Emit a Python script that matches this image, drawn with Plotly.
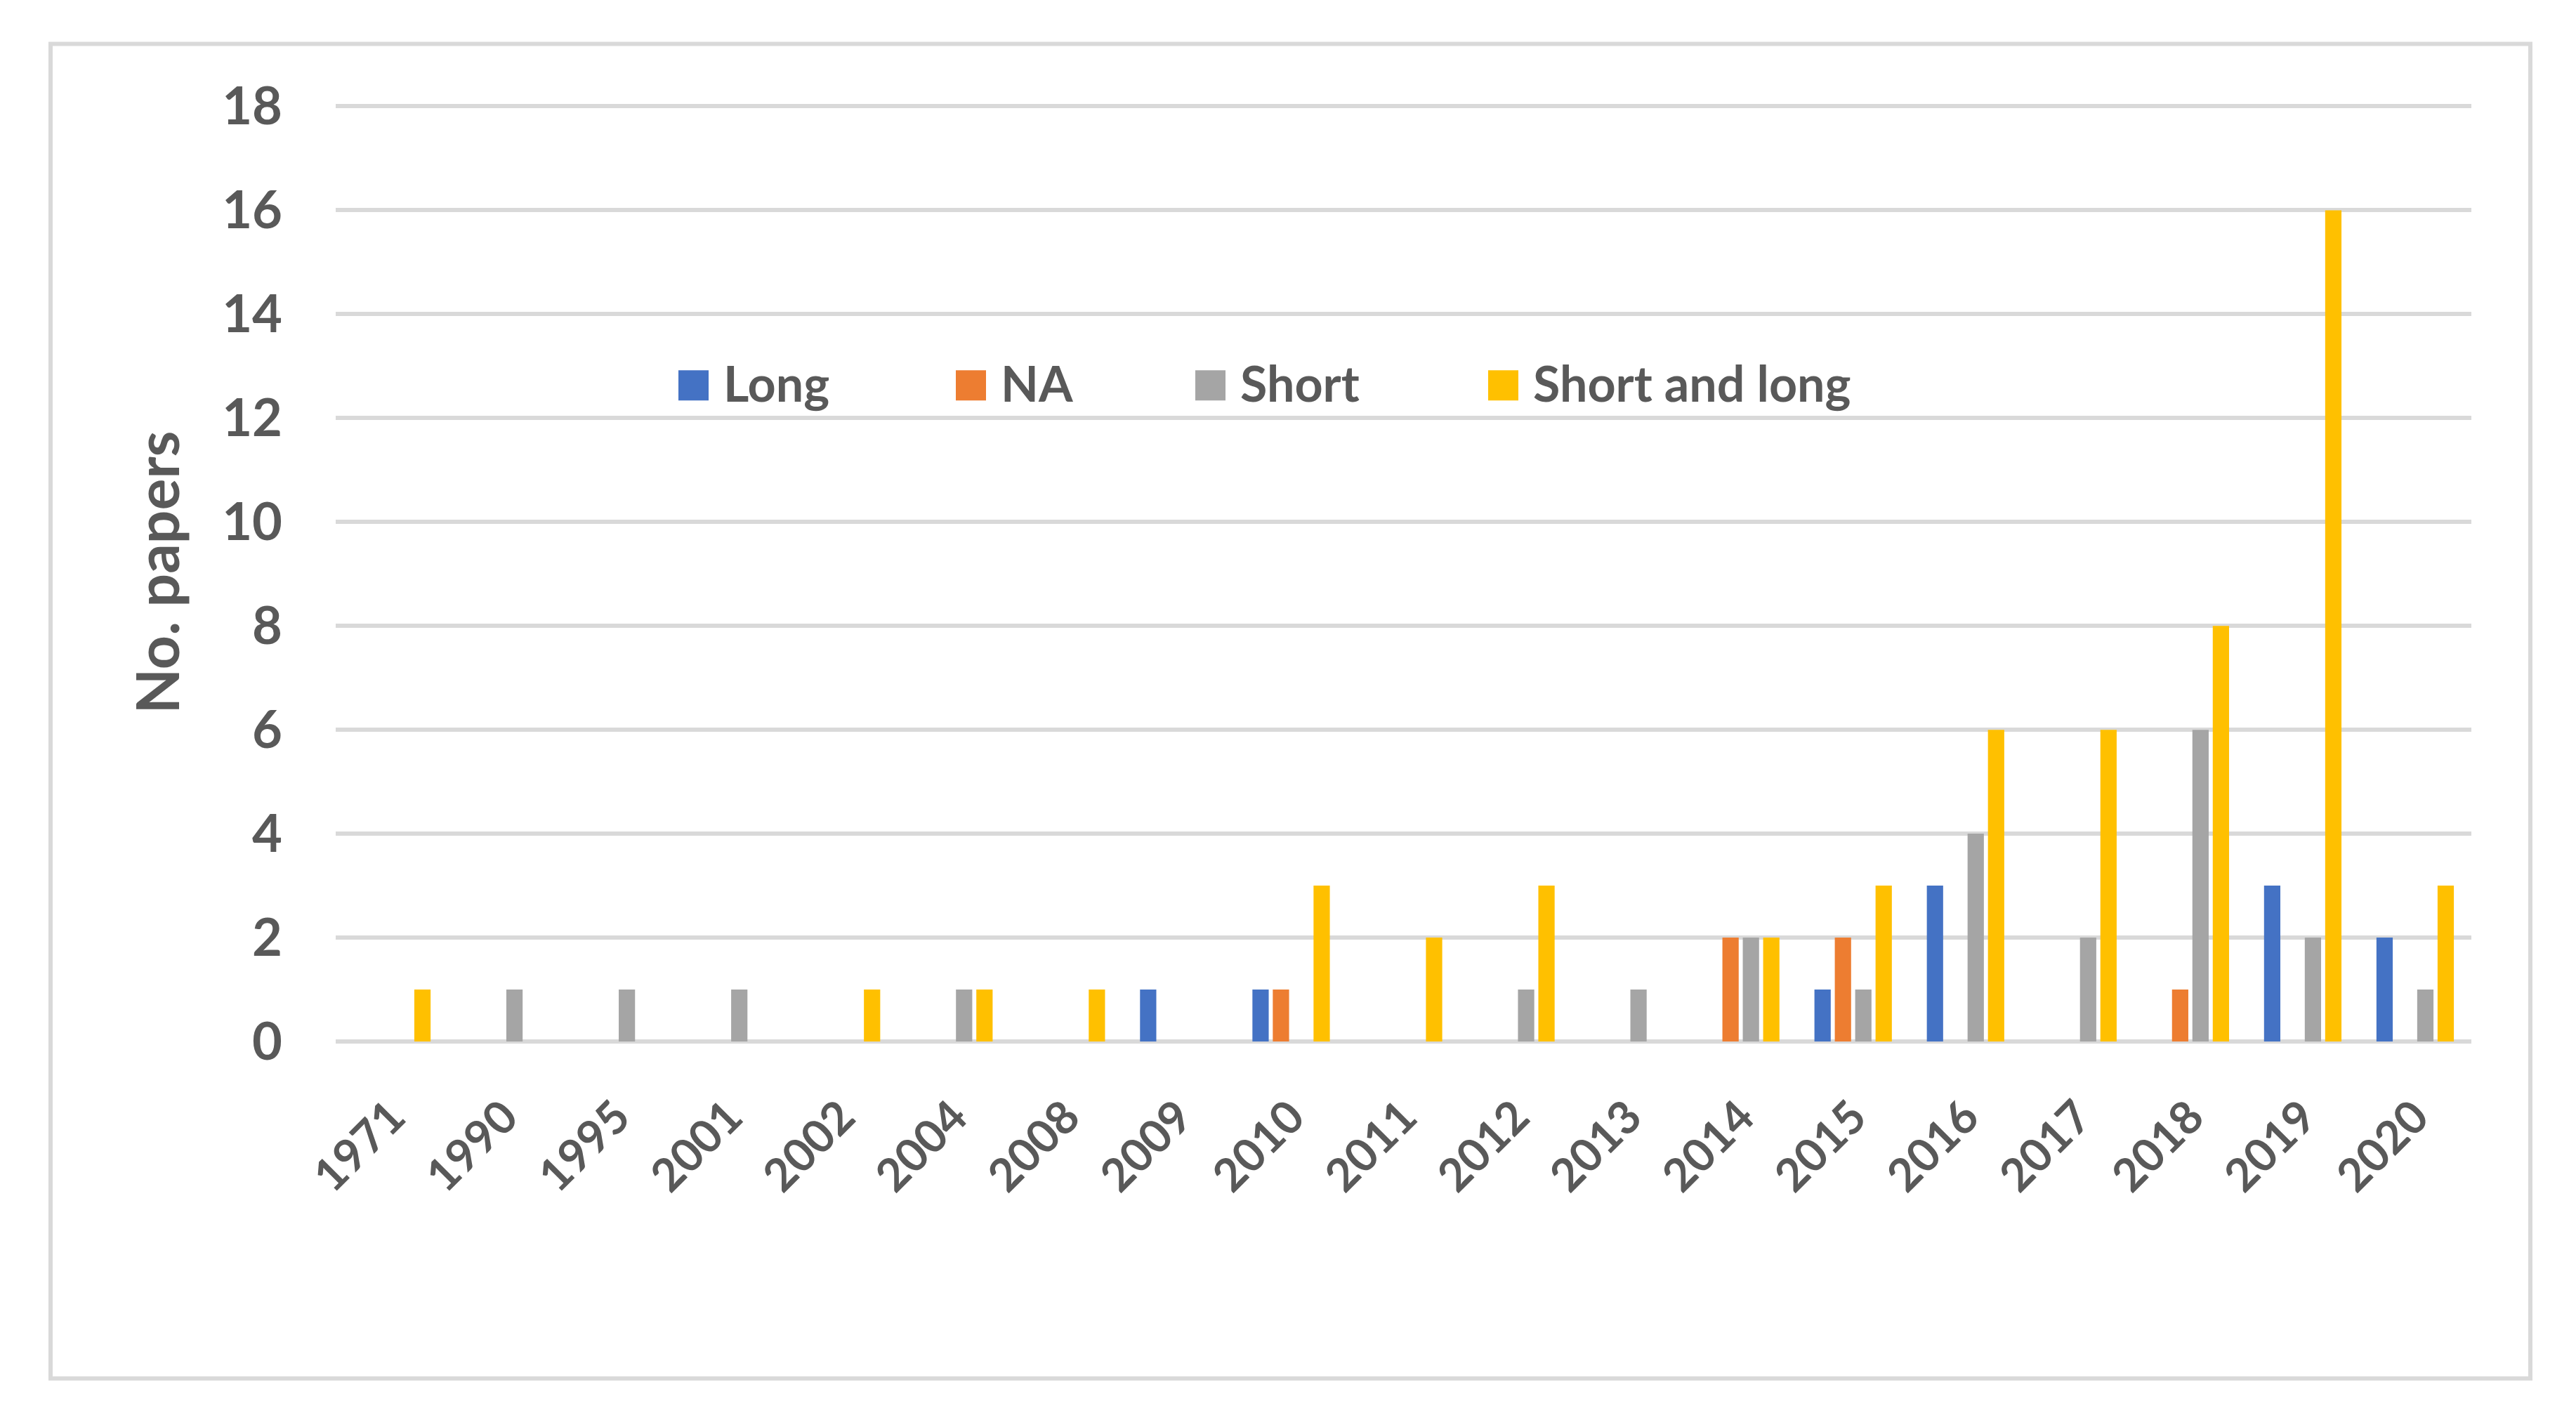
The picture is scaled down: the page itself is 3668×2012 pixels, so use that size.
import plotly.graph_objects as go

categories = ['1971', '1990', '1995', '2001', '2002', '2004', '2008', '2009', '2010', '2011',
              '2012', '2013', '2014', '2015', '2016', '2017', '2018', '2019', '2020']
long_vals = [None, None, None, None, None, None, None, 1, 1, None, None, None, None, 1, 3, None, None, 3, 2]
na_vals = [None, None, None, None, None, None, None, None, 1, None, None, None, 2, 2, None, None, 1, None, None]
short_vals = [None, 1, 1, 1, None, 1, None, None, None, None, 1, 1, 2, 1, 4, 2, 6, 2, 1]
short_long_vals = [1, None, None, None, 1, 1, 1, None, 3, 2, 3, None, 2, 3, 6, 6, 8, 16, 3]
series_names = ['Long', 'NA', 'Short', 'Short and long']
y_ticks = [0, 2, 4, 6, 8, 10, 12, 14, 16, 18]

colors = ['#4472C4', '#ED7D31', '#A5A5A5', '#FFC000']
TXT = '#595959'
FONT = 'Lato, "Open Sans", sans-serif'

W, H = 3668, 2012
YMAX = 18.06
L, R, B = 478, 3519, 1483
T = B - (B - 151) * YMAX / 18  # keep 18 at y=151 px


def px(x):
    return (x - L) / (R - L)


def py(y):
    return (B - y) / (B - T)


fig = go.Figure()
for name, vals, col in zip(series_names, [long_vals, na_vals, short_vals, short_long_vals], colors):
    fig.add_trace(go.Bar(x=categories, y=vals, name=name, marker=dict(color=col, line=dict(width=0)),
                         showlegend=False))

shapes = [dict(type='rect', xref='paper', yref='paper', x0=px(72), x1=px(3603), y0=py(62), y1=py(1963),
               line=dict(color='#D9D9D9', width=6), fillcolor='rgba(0,0,0,0)', layer='below')]
annotations = []
leg_x = [966, 1361, 1702, 2119]
for name, col, x0 in zip(series_names, colors, leg_x):
    shapes.append(dict(type='rect', xref='paper', yref='paper', x0=px(x0), x1=px(x0 + 43),
                       y0=py(570), y1=py(527), fillcolor=col, line=dict(width=0)))
    annotations.append(dict(xref='paper', yref='paper', x=px(x0 + 62), y=py(545), xanchor='left',
                            yanchor='middle', text=name, showarrow=False,
                            font=dict(family=FONT, size=70, color=TXT, weight='bold')))

fig.update_layout(
    width=W, height=H,
    margin=dict(l=L, r=W - R, t=T, b=H - B, pad=0),
    paper_bgcolor='white', plot_bgcolor='white',
    barmode='group', bargap=0.275, bargroupgap=0.2,
    shapes=shapes, annotations=annotations,
    showlegend=False,
    xaxis=dict(type='category', categoryorder='array', categoryarray=categories,
               tickangle=-45, ticks='', showgrid=False, showline=False, zeroline=False,
               ticklabelstandoff=55,
               tickfont=dict(family=FONT, size=65, color=TXT, weight='bold')),
    yaxis=dict(range=[0, YMAX], tickvals=y_ticks, ticks='', showline=False,
               showgrid=True, gridcolor='#D9D9D9', gridwidth=6,
               zeroline=True, zerolinecolor='#D9D9D9', zerolinewidth=6,
               ticklabelstandoff=75,
               tickfont=dict(family=FONT, size=74, color=TXT, weight='bold'),
               title=dict(text='No. papers', standoff=32,
                          font=dict(family=FONT, size=84, color=TXT, weight='bold'))),
)

fig.write_html('out.html', config={'displayModeBar': False},
               post_script="document.body.style.margin='0';document.body.style.overflow='hidden';")
